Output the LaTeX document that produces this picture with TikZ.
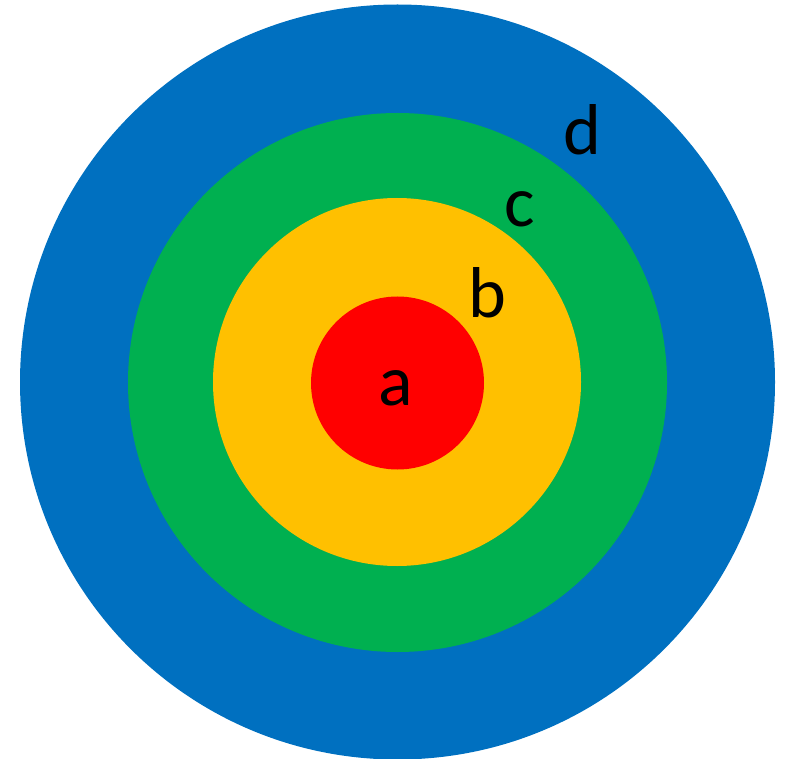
\documentclass[tikz,border=0pt]{standalone}
\usepackage{fontspec}
\setmainfont{Carlito}
\definecolor{cblue}{HTML}{0070C0}
\definecolor{cgreen}{HTML}{00B050}
\definecolor{cyellow}{HTML}{FFC000}
\definecolor{cred}{HTML}{FF0000}
\begin{document}
\begin{tikzpicture}[x=1pt,y=-1pt,
  ring/.style={draw=none},
  lbl/.style={font=\fontsize{72}{72}\selectfont, anchor=base, inner sep=0pt, text=black}]
\useasboundingbox (0,0) rectangle (795,759);
\fill[cblue] (397.5,382) circle (377.5);
\fill[cgreen] (397.5,382.5) circle (269.5);
\fill[cyellow] (397,382) circle (184);
\fill[cred] (397.5,383) circle (86.5);
\node[lbl] (a) at (396,405) {a};
\node[lbl] (b) at (487,317) {b};
\node[lbl] (c) at (520,227) {c};
\node[lbl] (d) at (582,155) {d};
\end{tikzpicture}
\end{document}
